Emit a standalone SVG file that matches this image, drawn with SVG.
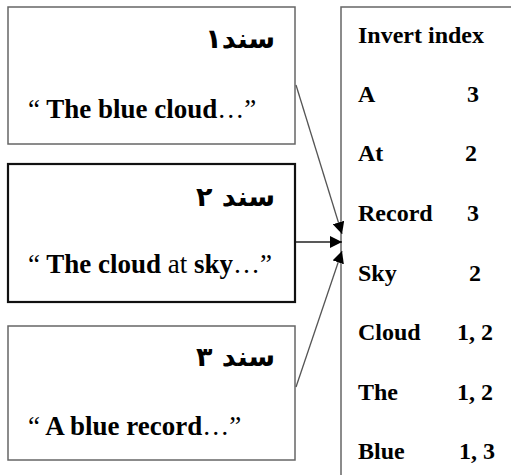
<svg xmlns="http://www.w3.org/2000/svg" width="511" height="475" viewBox="0 0 511 475">
<defs>
<style>
.box{fill:#fff;stroke:#666;stroke-width:1.5}
.box2{fill:#fff;stroke:#111;stroke-width:2.2}
.q{font-family:"Liberation Serif","Times New Roman",serif;font-size:27px;font-weight:bold;fill:#000}
.n{font-weight:normal}
.ar{font-family:"DejaVu Sans",sans-serif;font-size:27px;font-weight:bold;fill:#000}
.t{font-family:"Liberation Serif","Times New Roman",serif;font-size:24px;font-weight:bold;fill:#000}
.c{stroke:#555;stroke-width:1.3;fill:none}
.c2{stroke:#222;stroke-width:1.5;fill:none}
</style>
<marker id="ah" viewBox="0 0 10 10" refX="10" refY="5" markerWidth="12" markerHeight="12" markerUnits="userSpaceOnUse" orient="auto">
<path d="M0,0 L10,5 L0,10 z" fill="#000"/>
</marker>
</defs>
<rect width="511" height="475" fill="#fff"/>
<g id="doc1">
<rect class="box" x="8" y="7" width="287" height="137"/>
<text class="ar" x="275" y="48" text-anchor="end">سند۱</text>
<text class="q" x="28" y="118"><tspan class="n">“</tspan> The blue cloud<tspan class="n">…”</tspan></text>
</g>
<g id="doc2">
<rect class="box2" x="8" y="164" width="287" height="138"/>
<text class="ar" x="275" y="206" text-anchor="end">سند ۲</text>
<text class="q" x="28" y="273"><tspan class="n">“</tspan> The cloud <tspan class="n">at</tspan> sky<tspan class="n">…”</tspan></text>
</g>
<g id="doc3">
<rect class="box" x="8" y="326" width="287" height="134"/>
<text class="ar" x="275" y="366" text-anchor="end">سند ۳</text>
<text class="q" x="28" y="435"><tspan class="n">“</tspan> A blue record<tspan class="n">…”</tspan></text>
</g>
<g id="index">
<path class="box" d="M341,476 V7 H512"/>
<text class="t" x="358" y="43">Invert index</text>
<text class="t" x="358" y="102">A</text><text class="t" x="467" y="102">3</text>
<text class="t" x="358" y="161">At</text><text class="t" x="465" y="161">2</text>
<text class="t" x="358" y="221">Record</text><text class="t" x="467" y="221">3</text>
<text class="t" x="358" y="281">Sky</text><text class="t" x="469" y="281">2</text>
<text class="t" x="358" y="340">Cloud</text><text class="t" x="457" y="340">1, 2</text>
<text class="t" x="358" y="400">The</text><text class="t" x="457" y="400">1, 2</text>
<text class="t" x="358" y="459">Blue</text><text class="t" x="459" y="459">1, 3</text>
</g>
<g id="connectors">
<line class="c" x1="296" y1="85" x2="342" y2="234" marker-end="url(#ah)"/>
<line class="c2" x1="296" y1="242" x2="342" y2="242" marker-end="url(#ah)"/>
<line class="c" x1="296" y1="387" x2="342" y2="251" marker-end="url(#ah)"/>
</g>
</svg>
